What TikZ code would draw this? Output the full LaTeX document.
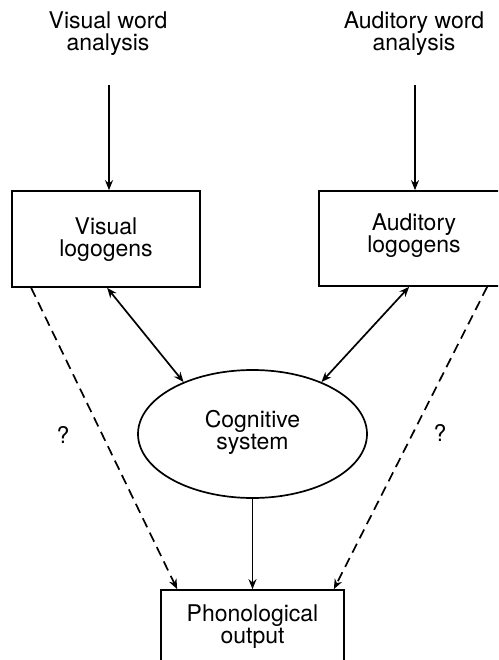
\documentclass[tikz,border=0pt]{standalone}
\usepackage{fontspec}
\setmainfont{TeX Gyre Heros}
\usetikzlibrary{arrows.meta,shapes.geometric,calc}
\begin{document}
\begin{tikzpicture}[x=1pt,y=-1pt,
  line width=1.7pt,
  >={Stealth[length=10pt,width=8pt]},
  lbl/.style={font=\fontsize{23}{22}\selectfont, align=center, inner sep=0pt},
  box/.style={draw, rectangle, inner sep=0pt},
  dashline/.style={dash pattern=on 10pt off 6pt}
]
\clip (0,0) rectangle (498,660);
\fill[white] (0,0) rectangle (498,660);

% input labels
\node[lbl] (vwa) at (108,34) {Visual word\\analysis};
\node[lbl] (awa) at (414,34) {Auditory word\\analysis};
\coordinate (vin) at (109,85);
\coordinate (ain) at (415,85);

% logogen boxes
\node[box, minimum width=188pt, minimum height=96pt] (vis) at (106,239) {};
\node[lbl] at (106,240) {Visual\\logogens};
\node[box, minimum width=191pt, minimum height=95pt] (aud) at (414.5,238.5) {};
\node[lbl] at (414,236) {Auditory\\logogens};

% cognitive system
\node[draw, ellipse, minimum width=229pt, minimum height=128pt, inner sep=0pt] (cog) at (252.5,434) {};
\node[lbl] at (252.5,432) {Cognitive\\system};

% output box
\node[box, minimum width=183pt, minimum height=100pt] (phon) at (252.5,640) {};
\node[lbl] at (252.5,627) {Phonological\\output};

% question marks
\node[lbl] (q1) at (63,435) {?};
\node[lbl] (q2) at (440,433) {?};

% connectors
\draw[->] (vin) -- (vin |- vis.north);
\draw[->] (ain) -- (ain |- aud.north);
\draw[<->] ($(vis.south west)+(96,0)$) -- (cog.143);
\draw[<->] ($(aud.south west)+(91,0)$) -- (cog.37);
\draw[->] (cog.south) -- (phon.north);
\draw[->, dashline] ($(vis.south west)+(20,0)$) -- ($(phon.north west)+(17,0)$);
\draw[->, dashline] ($(aud.south west)+(169,0)$) -- ($(phon.north east)+(-11,0)$);
\end{tikzpicture}
\end{document}
